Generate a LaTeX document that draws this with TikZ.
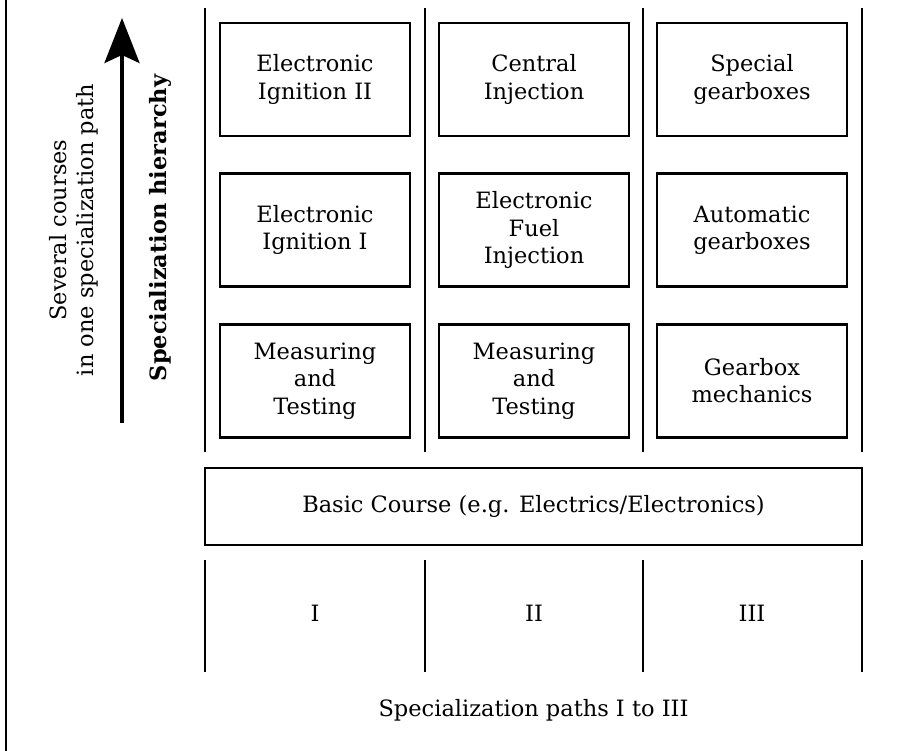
\documentclass[tikz,border=0pt]{standalone}
\usepackage{fontspec}
\setmainfont{DejaVu Serif}
\usepackage{tikz}
\usetikzlibrary{positioning}
\usetikzlibrary{arrows.meta}

\begin{document}
\begin{tikzpicture}[
  every node/.style={font=\fontsize{12.8}{15.5}\selectfont},
  course/.style={draw, line width=1.5pt, minimum width=3.8cm, minimum height=2.26cm, align=center, inner sep=2pt},
  divider/.style={line width=1.4pt}
]
\useasboundingbox (0,0) rectangle (18.34,15.02);
\draw[line width=0.9pt] (0.12,0) -- (0.12,15.02);

% hierarchy arrow with its two captions
\coordinate (hbot) at (2.44,6.56);
\coordinate (htop) at (2.44,14.66);
\draw[line width=2.1pt, -{Stealth[length=0.9cm,width=0.7cm,inset=0.16cm]}] (hbot) -- (htop);
\node[rotate=90, align=center] (several) at (1.48,10.42) {Several courses\\in one specialization path};
\node[rotate=90, font=\fontsize{12.8}{15.5}\selectfont\bfseries] (hier) at (3.20,10.46) {Specialization hierarchy};

% column dividers
\foreach \x in {4.10,8.50,12.86,17.24} {
  \draw[divider] (\x,14.86) -- (\x,5.98);
  \draw[divider] (\x,3.82) -- (\x,1.58);
}

% path I
\node[course] (meas1) at (6.30,7.40) {Measuring\\and\\Testing};
\node[course] (ign1) at (6.30,10.42) {Electronic\\Ignition I};
\node[course] (ign2) at (6.30,13.43) {Electronic\\Ignition II};

% path II
\node[course] (meas2) at (10.68,7.40) {Measuring\\and\\Testing};
\node[course] (efi) at (10.68,10.42) {Electronic\\Fuel\\Injection};
\node[course] (central) at (10.68,13.43) {Central\\Injection};

% path III
\node[course] (gearmech) at (15.04,7.40) {Gearbox\\mechanics};
\node[course] (autogear) at (15.04,10.42) {Automatic\\gearboxes};
\node[course] (specgear) at (15.04,13.43) {Special\\gearboxes};

% basic course and path numbers
\node[course, minimum width=13.14cm, minimum height=1.54cm] (basic) at (10.67,4.89) {Basic Course (e.g. Electrics/Electronics)};
\node (p1) at (6.30,2.76) {I};
\node (p2) at (10.68,2.76) {II};
\node (p3) at (15.04,2.76) {III};
\node (paths) at (10.67,0.82) {Specialization paths I to III};
\end{tikzpicture}
\end{document}
